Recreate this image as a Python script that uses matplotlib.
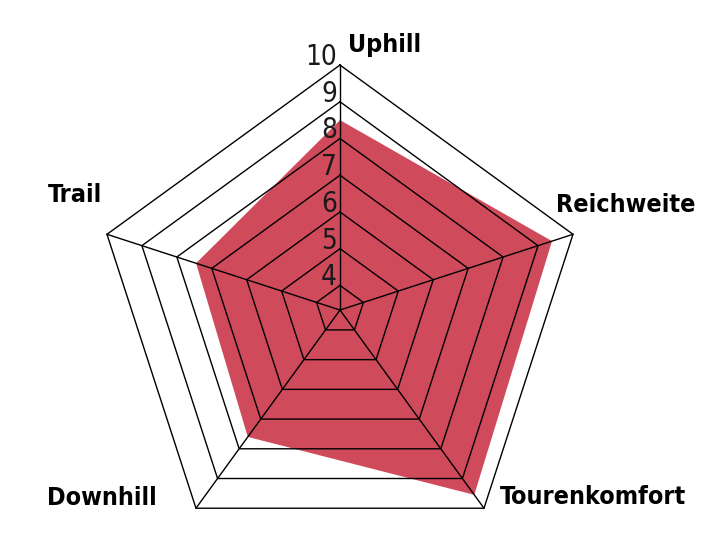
import numpy as np
import matplotlib
matplotlib.use("Agg")
import matplotlib.pyplot as plt

# bike rating, 5 categories, scale runs up to 10
categories = ["Uphill", "Reichweite", "Tourenkomfort", "Downhill", "Trail"]
values = [8.5, 9.4, 9.55, 7.6, 7.45]
ring_levels = [4, 5, 6, 7, 8, 9, 10]

fill_color = "#cf4a5b"

n = len(categories)
theta = np.linspace(0, 2 * np.pi, n, endpoint=False)
theta_closed = np.append(theta, theta[0])

fig = plt.figure(figsize=(7.12, 5.33), dpi=100)
# centre of the web roughly at (340, 310) px, outer ring ~245 px
ax = fig.add_axes([0.1334, -0.0413, 0.6882, 0.9193], projection="polar")
ax.set_theta_offset(np.pi / 2)
ax.set_theta_direction(-1)
ax.set_ylim(3.33, 10)
ax.grid(False)
ax.set_xticks([])
ax.set_yticks([])
ax.spines["polar"].set_visible(False)
ax.patch.set_alpha(0)

vals_closed = np.append(values, values[0])
ax.fill(theta_closed, vals_closed, color=fill_color, lw=0, zorder=1)

# pentagon rings and spokes on top of the fill
for lvl in ring_levels:
    ax.plot(theta_closed, [lvl] * (n + 1), color="black", lw=1.0, zorder=2,
            clip_on=False)
for t in theta:
    ax.plot([t, t], [3.33, 10], color="black", lw=1.0, zorder=2, clip_on=False)

# scale numbers along the Uphill spoke
for lvl in ring_levels:
    ax.annotate(str(lvl), xy=(0, lvl), xytext=(-3, 8), textcoords="offset pixels",
                ha="right", va="center", fontsize=20, family="DejaVu Sans",
                fontstretch="condensed", color="#1a1a1a", annotation_clip=False)

# category labels
offsets = [(45, 20), (53, 29), (109, 11), (-94, 10), (-32, 39)]
for t, name, off in zip(theta, categories, offsets):
    ax.annotate(name, xy=(t, 10), xytext=off, textcoords="offset pixels",
                ha="center", va="center", fontsize=18, fontweight="bold",
                fontstretch="condensed", family="DejaVu Sans", color="black",
                annotation_clip=False)

fig.savefig("out.png", dpi=100, facecolor="white")
